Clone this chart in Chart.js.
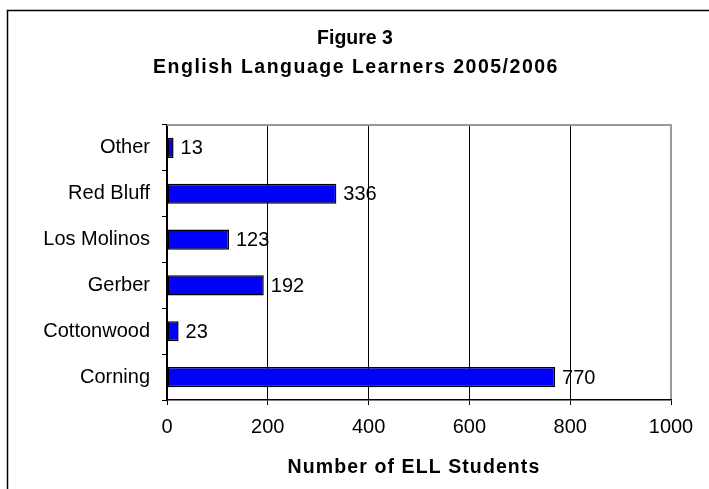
<!DOCTYPE html>
<html>
<head>
<meta charset="utf-8">
<script src="https://cdn.jsdelivr.net/npm/chart.js@4/dist/chart.umd.min.js"></script>
<style>
  html, body { margin: 0; padding: 0; background: #fff; }
  #wrap { width: 709px; height: 489px; position: relative; }
</style>
</head>
<body>
<div id="wrap"><canvas id="ellChart" width="709" height="489"></canvas></div>
<script>
// Figure 3 - ELL students by district
const districts = ['Other', 'Red Bluff', 'Los Molinos', 'Gerber', 'Cottonwood', 'Corning'];
const students = [13, 336, 123, 192, 23, 770];
const xTicks = [0, 200, 400, 600, 800, 1000];
const titleLines = ['Figure 3', 'English Language Learners 2005/2006'];
const xTitle = 'Number of ELL Students';

const FONT = '"Liberation Sans", Arial, sans-serif';

// frame, plot border, titles and bar value labels
const decor = {
    id: 'decor',
    beforeDraw(chart) {
        const ctx = chart.ctx;
        ctx.save();
        ctx.fillStyle = '#fff';
        ctx.fillRect(0, 0, chart.width, chart.height);
        ctx.strokeStyle = '#000';
        ctx.lineWidth = 1.5;
        ctx.beginPath();
        ctx.moveTo(7.5, chart.height);
        ctx.lineTo(7.5, 10.5);
        ctx.lineTo(chart.width, 10.5);
        ctx.stroke();
        ctx.restore();
    },
    afterDraw(chart) {
        const ctx = chart.ctx;
        const a = chart.chartArea;
        ctx.save();
        // grey top/right border of plot area
        ctx.strokeStyle = '#999';
        ctx.lineWidth = 2;
        ctx.beginPath();
        ctx.moveTo(a.left, a.top);
        ctx.lineTo(a.right, a.top);
        ctx.lineTo(a.right, a.bottom - 1);
        ctx.stroke();

        ctx.fillStyle = '#000';
        ctx.textAlign = 'center';
        ctx.textBaseline = 'alphabetic';
        ctx.font = 'bold 19.5px ' + FONT;
        ctx.letterSpacing = '0px';
        ctx.fillText(titleLines[0], 355, 43.5);
        ctx.letterSpacing = '1.5px';
        ctx.fillText(titleLines[1], 356, 73);
        ctx.letterSpacing = '1.1px';
        ctx.fillText(xTitle, 414, 473);
        ctx.restore();
    },
    afterDatasetsDraw(chart) {
        const ctx = chart.ctx;
        const meta = chart.getDatasetMeta(0);
        ctx.save();
        ctx.fillStyle = '#000';
        ctx.font = '20px ' + FONT;
        ctx.textAlign = 'left';
        ctx.textBaseline = 'middle';
        meta.data.forEach((bar, i) => {
            ctx.fillText(String(students[i]), bar.x + 7, bar.y + 1);
        });
        ctx.restore();
    }
};

new Chart(document.getElementById('ellChart').getContext('2d'), {
    type: 'bar',
    data: {
        labels: districts,
        datasets: [{
            data: students,
            backgroundColor: '#0000ff',
            borderColor: '#000',
            borderWidth: 1.5,
            borderSkipped: false,
            categoryPercentage: 1,
            barPercentage: 0.44
        }]
    },
    options: {
        indexAxis: 'y',
        responsive: false,
        animation: false,
        layout: { padding: { left: 0, top: 125, right: 38, bottom: 0 } },
        plugins: {
            legend: { display: false },
            title: { display: false },
            tooltip: { enabled: false }
        },
        scales: {
            x: {
                min: 0,
                max: 1000,
                afterBuildTicks: s => { s.ticks = xTicks.map(v => ({ value: v })); },
                afterFit: s => { s.height = 89; },
                grid: { color: '#000', lineWidth: 1, tickLength: 5 },
                border: { color: '#000', width: 1.5 },
                ticks: {
                    color: '#000', font: { family: FONT, size: 20 }, padding: 10, maxRotation: 0,
                    callback: v => String(v)
                }
            },
            y: {
                afterFit: s => { s.width = 167; },
                grid: { drawOnChartArea: false, color: '#000', tickLength: 5 },
                border: { color: '#000', width: 1.5 },
                ticks: { color: '#000', font: { family: FONT, size: 20 }, padding: 12, autoSkip: false }
            }
        }
    },
    plugins: [decor]
});
</script>
</body>
</html>
